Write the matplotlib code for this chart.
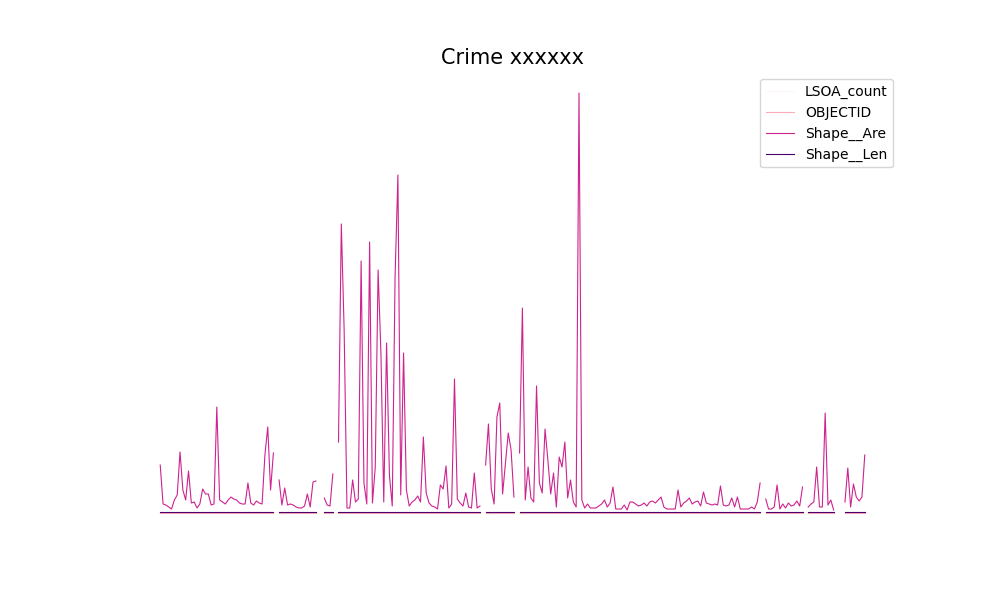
import matplotlib

matplotlib.use("Agg")
import matplotlib.pyplot as plt
import numpy as np
import pandas as pd

nan = np.nan

# Shape__Are per row (m^2 / 1e4); NaN rows make the gaps.
shape_are_seg1 = [48, 9, 8, 6, 4, 13, 18, 61, 23, 13, 42, 10, 11, 5, 9, 24, 19, 19, 8, 9,
                  106, 13, 11, 9, 13, 16, 14, 13, 10, 9, 9, 30, 10, 8, 12, 10, 9, 58, 86, 23, 60]
shape_are_seg2 = [33, 8, 25, 8, 9, 8, 6, 5, 5, 7, 19, 6, 31, 32]
shape_are_seg3 = [15, 8, 7, 39]
shape_are_seg4 = [71, 289, 183, 5, 5, 33, 11, 14, 252, 30, 9, 271, 10, 46, 243, 160, 11, 170,
                  38, 7, 236, 338, 18, 160, 23, 7, 11, 13, 17, 11, 76, 20, 10, 7, 6, 4, 28, 24,
                  47, 5, 9, 134, 14, 10, 7, 20, 6, 5, 40, 5, 7]
shape_are_seg5 = [48, 89, 24, 9, 96, 110, 19, 50, 80, 63, 16]
shape_are_seg6 = [60, 205, 13, 46, 15, 11, 127, 30, 20, 84, 53, 19, 40, 6, 56, 46, 71, 15, 33,
                  11, 6, 420, 13, 5, 9, 5, 5, 5, 7, 9, 13, 6, 10, 26, 4, 4, 4, 8, 3, 11, 11, 9,
                  7, 8, 10, 7, 11, 12, 10, 13, 16, 6, 4, 4, 4, 4, 23, 6, 10, 12, 15, 9, 11, 12, 7,
                  21, 10, 9, 8, 9, 8, 27, 8, 7, 8, 15, 6, 16, 4, 4, 4, 4, 6, 4, 11, 30]
shape_are_seg7 = [14, 4, 4, 6, 28, 4, 9, 5, 10, 7, 8, 12, 7, 26]
shape_are_seg8 = [6, 9, 11, 46, 6, 6, 100, 8, 13, 3]
shape_are_seg9 = [11, 45, 6, 29, 16, 12, 16, 58]

shape_are = (shape_are_seg1 + [nan] + shape_are_seg2 + [nan, nan] + shape_are_seg3 + [nan]
             + shape_are_seg4 + [nan] + shape_are_seg5 + [nan] + shape_are_seg6 + [nan]
             + shape_are_seg7 + [nan] + shape_are_seg8 + [nan, nan, nan] + shape_are_seg9)
shape_are = [v * 1e4 for v in shape_are]

# the other three columns sit flat on the baseline at this scale
seg_lengths = [41, 14, 4, 51, 11, 86, 14, 10, 8]
gap_lengths = [1, 2, 1, 1, 1, 1, 1, 3]
lsoa_level = 5
objectid_level = 120
shape_len_level = 6000


def flat(level):
    out = []
    for k, n in enumerate(seg_lengths):
        out += [level] * n
        if k < len(gap_lengths):
            out += [nan] * gap_lengths[k]
    return out


df = pd.DataFrame({
    "LSOA_count": flat(lsoa_level),
    "OBJECTID": flat(objectid_level),
    "Shape__Are": shape_are,
    "Shape__Len": flat(shape_len_level),
})

fig, ax = plt.subplots(figsize=(10, 6), dpi=100)
df.plot(ax=ax, colormap="RdPu", lw=0.8)
ax.set_title("Crime xxxxxx", fontsize=15)
ax.axis("off")
ax.legend(loc="upper right")
fig.savefig("out.png", dpi=100)
